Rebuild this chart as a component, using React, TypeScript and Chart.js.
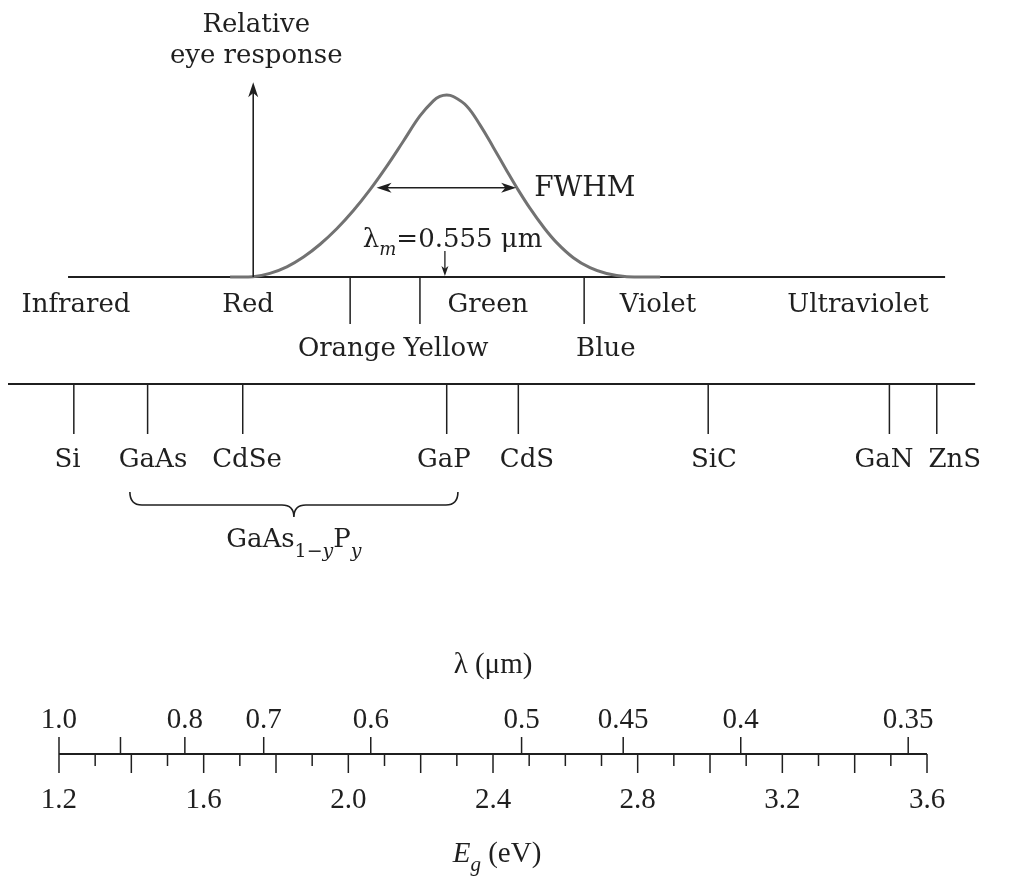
import React, { useEffect, useRef } from 'react';
import { Chart, registerables } from 'chart.js';

Chart.register(...registerables);

// ---- Data (photon energy in eV) ----
const curveEnergy = [1.673, 1.737, 1.783, 1.83, 1.876, 1.922, 1.968, 2.014, 2.06, 2.106, 2.152, 2.198, 2.235, 2.253, 2.272, 2.29, 2.327, 2.364, 2.401, 2.438, 2.466, 2.502, 2.539, 2.576, 2.622, 2.668, 2.714, 2.77, 2.862];
const curveResponse = [0, 0.002, 0.02, 0.056, 0.11, 0.18, 0.265, 0.365, 0.48, 0.608, 0.746, 0.885, 0.968, 0.992, 1.0, 0.992, 0.94, 0.836, 0.712, 0.584, 0.49, 0.378, 0.276, 0.189, 0.106, 0.051, 0.019, 0.002, 0];

const bandLabels = ['Infrared', 'Red', 'Green', 'Violet', 'Ultraviolet'];
const bandLabelEnergy = [1.247, 1.723, 2.386, 2.856, 3.409];
const lowerBandLabels = ['Orange', 'Yellow', 'Blue'];
const lowerBandLabelEnergy = [1.996, 2.27, 2.712];
const bandBoundaryEnergy = [2.005, 2.198, 2.652];

const materials = ['Si', 'GaAs', 'CdSe', 'GaP', 'CdS', 'SiC', 'GaN', 'ZnS'];
const materialEnergy = [1.241, 1.445, 1.708, 2.272, 2.47, 2.995, 3.496, 3.627];
const materialLabelEnergy = [1.2235, 1.46, 1.72, 2.264, 2.494, 3.011, 3.481, 3.677];
const alloyRange = [1.396, 2.303];

const peakEnergy = 2.267;
const fwhmRange = [2.078, 2.464];
const fwhmLevel = 0.49;
const responseAxisEnergy = 1.737;
const responseAxisTop = 1.07;

const lambdaTickLabels = ['1.0', '', '0.8', '0.7', '0.6', '0.5', '0.45', '0.4', '0.35'];
const lambdaTickEnergy = [1.2, 1.37, 1.548, 1.766, 2.062, 2.479, 2.76, 3.085, 3.548];

const evLongTicks = [1.2, 1.4, 1.6, 1.8, 2.0, 2.2, 2.4, 2.8, 3.0, 3.2, 3.4, 3.6];
const evShortTicks = [1.3, 1.5, 1.7, 1.9, 2.1, 2.3, 2.5, 2.6, 2.7, 2.9, 3.1, 3.3, 3.5];
const evLabelValues = [1.2, 1.6, 2.0, 2.4, 2.8, 3.2, 3.6];
const evTickLabels = ['1.2', '1.6', '2.0', '2.4', '2.8', '3.2', '3.6'];

const axisRange = [1.2, 3.6];
const spectrumLineRange = [1.225, 3.65];
const materialLineRange = [1.059, 3.733];

// ---- Layout / style ----
const W = 1015;
const H = 892;
const X_MIN = 1.03687;
const X_MAX = 3.84329;
const Y_MIN = -3.37912;
const Y_MAX = 1.52198;

const INK = '#1f1f1f';
const CURVE = '#727272';
const SERIF = '"DejaVu Serif", serif';
const NUM = '"Liberation Serif", serif';
const TXT = 26;
const font = (size: number, style = '') => `${style} ${size}px ${SERIF}`.trim();
const nfont = (size: number, style = '') => `${style} ${size}px ${NUM}`.trim();

const ROW = {
  title1: 32,
  title2: 63,
  fwhmText: 196,
  lmText: 247,
  lmArrowTop: 251,
  bandTickBottom: 324,
  band1: 312,
  band2: 356,
  matLine: 384,
  matTickBottom: 434,
  matLabel: 467,
  braceTop: 492,
  braceMid: 505,
  braceTip: 517,
  alloyLabel: 547,
  lambdaTitle: 673,
  lambdaLabel: 728,
  axis: 754,
  lambdaTickTop: 737,
  evLongBottom: 773,
  evShortBottom: 766,
  evLabel: 808,
  evTitle: 862,
};

type Part = { t: string; f: string; dy?: number };

function drawParts(ctx: CanvasRenderingContext2D, parts: Part[], x: number, y: number, align: 'left' | 'center') {
  let total = 0;
  for (const p of parts) {
    ctx.font = p.f;
    total += ctx.measureText(p.t).width;
  }
  let cx = align === 'center' ? x - total / 2 : x;
  ctx.textAlign = 'left';
  ctx.textBaseline = 'alphabetic';
  for (const p of parts) {
    ctx.font = p.f;
    ctx.fillText(p.t, cx, y + (p.dy || 0));
    cx += ctx.measureText(p.t).width;
  }
}

function seg(ctx: CanvasRenderingContext2D, x1: number, y1: number, x2: number, y2: number, w = 1.5) {
  ctx.lineWidth = w;
  ctx.beginPath();
  ctx.moveTo(x1, y1);
  ctx.lineTo(x2, y2);
  ctx.stroke();
}

function head(ctx: CanvasRenderingContext2D, tx: number, ty: number, dx: number, dy: number, len = 13, half = 4.5) {
  const bx = tx - dx * len;
  const by = ty - dy * len;
  const nx = -dy;
  const ny = dx;
  ctx.beginPath();
  ctx.moveTo(tx, ty);
  ctx.lineTo(bx + nx * half, by + ny * half);
  ctx.lineTo(tx - dx * len * 0.72, ty - dy * len * 0.72);
  ctx.lineTo(bx - nx * half, by - ny * half);
  ctx.closePath();
  ctx.fill();
}

const diagramPlugin = {
  id: 'diagram',
  beforeDatasetsDraw(chart: any) {
    const { ctx, scales } = chart;
    const px = (e: number) => scales.x.getPixelForValue(e);
    const y0 = scales.y.getPixelForValue(0);
    ctx.save();
    ctx.strokeStyle = INK;
    seg(ctx, px(spectrumLineRange[0]), y0, px(spectrumLineRange[1]), y0, 2);
    ctx.restore();
  },
  afterDatasetsDraw(chart: any) {
    const { ctx, scales } = chart;
    const top = chart.chartArea.top;
    const px = (e: number) => scales.x.getPixelForValue(e);
    const py = (v: number) => scales.y.getPixelForValue(v);
    const y0 = py(0);
    ctx.save();
    ctx.strokeStyle = INK;
    ctx.fillStyle = INK;

    // response axis arrow
    const ax = px(responseAxisEnergy);
    seg(ctx, ax, y0, ax, py(responseAxisTop) + 6, 1.6);
    head(ctx, ax, py(responseAxisTop), 0, -1, 15, 5);
    ctx.textAlign = 'center';
    ctx.textBaseline = 'alphabetic';
    ctx.font = font(TXT);
    ctx.fillText('Relative', ax + 3, top + ROW.title1);
    ctx.fillText('eye response', ax + 3, top + ROW.title2);

    // FWHM arrow
    const fy = py(fwhmLevel);
    const fl = px(fwhmRange[0]);
    const fr = px(fwhmRange[1]);
    seg(ctx, fl + 6, fy, fr - 6, fy, 1.6);
    head(ctx, fl, fy, -1, 0, 15, 5);
    head(ctx, fr, fy, 1, 0, 15, 5);
    ctx.textAlign = 'left';
    ctx.font = font(28);
    ctx.fillText('FWHM', fr + 18, top + ROW.fwhmText);

    // lambda_m label + marker
    drawParts(ctx, [
      { t: 'λ', f: font(TXT) },
      { t: 'm', f: font(18, 'italic'), dy: 8 },
      { t: '=0.555 μm', f: font(TXT) },
    ], px(2.04), top + ROW.lmText, 'left');
    const mx = px(peakEnergy);
    seg(ctx, mx, top + ROW.lmArrowTop, mx, y0 - 4, 1.3);
    head(ctx, mx, y0 - 1, 0, 1, 10, 3.5);

    // band boundaries and labels
    bandBoundaryEnergy.forEach((e) => seg(ctx, px(e), y0, px(e), top + ROW.bandTickBottom, 1.5));
    ctx.textAlign = 'center';
    ctx.font = font(TXT);
    bandLabels.forEach((t, i) => ctx.fillText(t, px(bandLabelEnergy[i]), top + ROW.band1));
    lowerBandLabels.forEach((t, i) => ctx.fillText(t, px(lowerBandLabelEnergy[i]), top + ROW.band2));

    // materials
    const my = top + ROW.matLine;
    seg(ctx, px(materialLineRange[0]), my, px(materialLineRange[1]), my, 2);
    materialEnergy.forEach((e) => seg(ctx, px(e), my, px(e), top + ROW.matTickBottom, 1.5));
    ctx.font = font(TXT);
    ctx.textAlign = 'center';
    materials.forEach((t, i) => ctx.fillText(t, px(materialLabelEnergy[i]), top + ROW.matLabel));

    // brace for alloy
    const bl = px(alloyRange[0]);
    const br = px(alloyRange[1]);
    const bm = (bl + br) / 2;
    const bt = top + ROW.braceTop;
    const bmid = top + ROW.braceMid;
    const btip = top + ROW.braceTip;
    const r = 12;
    ctx.lineWidth = 1.6;
    ctx.beginPath();
    ctx.moveTo(bl, bt);
    ctx.quadraticCurveTo(bl, bmid, bl + r, bmid);
    ctx.lineTo(bm - r, bmid);
    ctx.quadraticCurveTo(bm, bmid, bm, btip);
    ctx.quadraticCurveTo(bm, bmid, bm + r, bmid);
    ctx.lineTo(br - r, bmid);
    ctx.quadraticCurveTo(br, bmid, br, bt);
    ctx.stroke();
    drawParts(ctx, [
      { t: 'GaAs', f: font(TXT) },
      { t: '1−', f: font(19), dy: 10 },
      { t: 'y', f: font(19, 'italic'), dy: 10 },
      { t: 'P', f: font(TXT) },
      { t: 'y', f: font(19, 'italic'), dy: 10 },
    ], bm, top + ROW.alloyLabel, 'center');

    // bottom energy / wavelength axis
    const ay = top + ROW.axis;
    seg(ctx, px(axisRange[0]), ay, px(axisRange[1]), ay, 2);
    lambdaTickEnergy.forEach((e) => seg(ctx, px(e), ay, px(e), top + ROW.lambdaTickTop, 1.5));
    evLongTicks.forEach((e) => seg(ctx, px(e), ay, px(e), top + ROW.evLongBottom, 1.5));
    evShortTicks.forEach((e) => seg(ctx, px(e), ay, px(e), top + ROW.evShortBottom, 1.5));
    ctx.font = nfont(29);
    ctx.textAlign = 'center';
    lambdaTickLabels.forEach((t, i) => { if (t) ctx.fillText(t, px(lambdaTickEnergy[i]), top + ROW.lambdaLabel); });
    evTickLabels.forEach((t, i) => ctx.fillText(t, px(evLabelValues[i]), top + ROW.evLabel));
    const mid = px(2.4);
    ctx.font = nfont(29);
    ctx.fillText('λ (μm)', mid, top + ROW.lambdaTitle);
    drawParts(ctx, [
      { t: 'E', f: nfont(29, 'italic') },
      { t: 'g', f: nfont(21, 'italic'), dy: 9 },
      { t: ' (eV)', f: nfont(29) },
    ], mid + 4, top + ROW.evTitle, 'center');

    ctx.restore();
  },
};

export default function App() {
  const ref = useRef<HTMLCanvasElement | null>(null);
  useEffect(() => {
    if (!ref.current) return;
    const chart = new Chart(ref.current, {
      type: 'line',
      data: {
        datasets: [
          {
            data: curveEnergy.map((e, i) => ({ x: e, y: curveResponse[i] })),
            borderColor: CURVE,
            borderWidth: 3,
            pointRadius: 0,
            tension: 0.4,
            fill: false,
          } as any,
        ],
      },
      options: {
        animation: false,
        responsive: false,
        devicePixelRatio: 1,
        events: [],
        layout: { padding: 0 },
        plugins: { legend: { display: false }, tooltip: { enabled: false } },
        scales: {
          x: { type: 'linear', display: false, min: X_MIN, max: X_MAX },
          y: { type: 'linear', display: false, min: Y_MIN, max: Y_MAX },
        },
      },
      plugins: [diagramPlugin as any],
    });
    return () => chart.destroy();
  }, []);
  return (
    <div style={{ position: 'fixed', left: 0, top: 0, width: W, height: H, background: '#fff' }}>
      <canvas ref={ref} width={W} height={H} style={{ display: 'block', width: W, height: H }} />
    </div>
  );
}
